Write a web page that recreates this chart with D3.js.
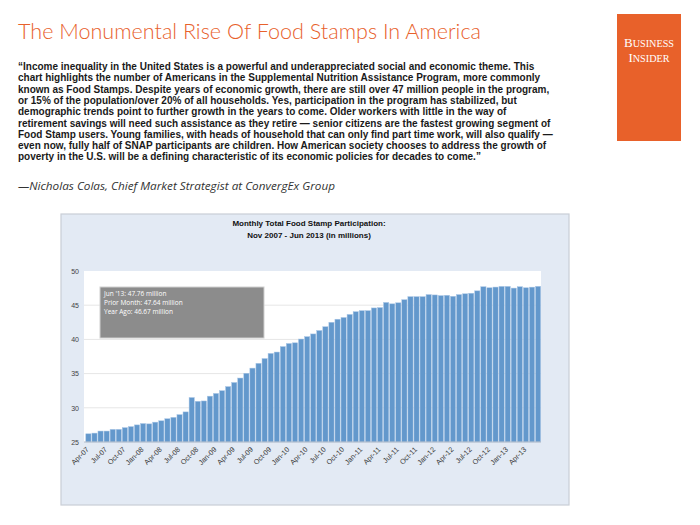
<!DOCTYPE html>
<html><head><meta charset="utf-8">
<script src="https://cdn.jsdelivr.net/npm/d3@7"></script>
<style>body{margin:0;background:#fff}svg{display:block}</style>
</head><body>
<script>
const months = ["Apr-07","May-07","Jun-07","Jul-07","Aug-07","Sep-07","Oct-07","Nov-07","Dec-07",
"Jan-08","Feb-08","Mar-08","Apr-08","May-08","Jun-08","Jul-08","Aug-08","Sep-08","Oct-08","Nov-08","Dec-08",
"Jan-09","Feb-09","Mar-09","Apr-09","May-09","Jun-09","Jul-09","Aug-09","Sep-09","Oct-09","Nov-09","Dec-09",
"Jan-10","Feb-10","Mar-10","Apr-10","May-10","Jun-10","Jul-10","Aug-10","Sep-10","Oct-10","Nov-10","Dec-10",
"Jan-11","Feb-11","Mar-11","Apr-11","May-11","Jun-11","Jul-11","Aug-11","Sep-11","Oct-11","Nov-11","Dec-11",
"Jan-12","Feb-12","Mar-12","Apr-12","May-12","Jun-12","Jul-12","Aug-12","Sep-12","Oct-12","Nov-12","Dec-12",
"Jan-13","Feb-13","Mar-13","Apr-13","May-13","Jun-13"];
const participation = [26.2,26.3,26.6,26.6,26.85,26.85,27.1,27.25,27.5,
27.7,27.65,27.9,28.1,28.4,28.6,29.0,29.4,31.5,30.95,31.0,31.7,
32.1,32.5,33.1,33.7,34.35,35.05,35.8,36.5,37.2,37.95,38.15,38.95,
39.4,39.5,40.05,40.4,40.8,41.3,41.85,42.5,42.95,43.2,43.65,44.05,
44.2,44.2,44.6,44.65,45.4,45.2,45.35,45.8,46.25,46.25,46.25,46.55,
46.5,46.4,46.45,46.3,46.55,46.67,46.75,47.1,47.7,47.55,47.65,47.75,
47.75,47.5,47.7,47.55,47.64,47.76];
const tickLabels = ["Apr-07","Jul-07","Oct-07","Jan-08","Apr-08","Jul-08","Oct-08","Jan-09","Apr-09",
"Jul-09","Oct-09","Jan-10","Apr-10","Jul-10","Oct-10","Jan-11","Apr-11","Jul-11","Oct-11","Jan-12",
"Apr-12","Jul-12","Oct-12","Jan-13","Apr-13"];
const yTicks = [25,30,35,40,45,50];
const pageTitle = "The Monumental Rise Of Food Stamps In America";
const quoteLines = [
"\u201CIncome inequality in the United States is a powerful and underappreciated social and economic theme. This",
"chart highlights the number of Americans in the Supplemental Nutrition Assistance Program, more commonly",
"known as Food Stamps. Despite years of economic growth, there are still over 47 million people in the program,",
"or 15% of the population/over 20% of all households. Yes, participation in the program has stabilized, but",
"demographic trends point to further growth in the years to come. Older workers with little in the way of",
"retirement savings will need such assistance as they retire \u2014 senior citizens are the fastest growing segment of",
"Food Stamp users. Young families, with heads of household that can only find part time work, will also qualify \u2014",
"even now, fully half of SNAP participants are children. How American society chooses to address the growth of",
"poverty in the U.S. will be a defining characteristic of its economic policies for decades to come.\u201D"];
const attribution = "\u2014Nicholas Colas, Chief Market Strategist at ConvergEx Group";
const chartTitle = ["Monthly Total Food Stamp Participation:", "Nov 2007 - Jun 2013 (in millions)"];
const tooltipLines = ["Jun '13: 47.76 million", "Prior Month: 47.64 million", "Year Ago: 46.67 million"];

const W = 700, H = 525;
const svg = d3.select("body").append("svg").attr("width", W).attr("height", H);

// Page title
svg.append("text").attr("x", 18).attr("y", 39).text(pageTitle)
  .attr("font-family", "Lato, 'Open Sans', sans-serif").attr("font-weight", 300)
  .attr("font-size", 22).attr("fill", "#e8612c")
  .attr("textLength", 463).attr("lengthAdjust", "spacingAndGlyphs");

// Logo
svg.append("rect").attr("x", 617).attr("y", 14).attr("width", 64).attr("height", 127).attr("fill", "#e8612a");
[["B", "USINESS", 47], ["I", "NSIDER", 62]].forEach(([a, b, yy]) => {
  const t = svg.append("text").attr("font-family", "'Liberation Serif', serif").attr("fill", "#fff")
    .attr("text-anchor", "middle").attr("x", 649).attr("y", yy);
  t.append("tspan").attr("font-size", 13).text(a);
  t.append("tspan").attr("font-size", 10.2).text(b);
});

// Quote
const q = svg.append("g").selectAll("text").data(quoteLines).join("text")
  .attr("x", 18).attr("y", (d, i) => 70 + i * 11.3)
  .attr("font-family", "'Liberation Sans', Arial, sans-serif").attr("font-weight", 700)
  .attr("font-size", 10).attr("fill", "#1a1a1a").text(d => d);
const base = q.nodes()[2].getComputedTextLength();
const fs = Math.min(10, 10 * 549 / base);
q.attr("font-size", fs);

svg.append("text").attr("x", 18).attr("y", 190).text(attribution)
  .attr("font-family", "'Open Sans', sans-serif").attr("font-style", "italic")
  .attr("font-size", 11).attr("fill", "#333")
  .attr("textLength", 317).attr("lengthAdjust", "spacingAndGlyphs");

// Chart panel
svg.append("rect").attr("x", 61).attr("y", 214).attr("width", 508).attr("height", 291)
  .attr("fill", "#e3eaf4").attr("stroke", "#c9ced6").attr("stroke-width", 1.2);

svg.append("g").selectAll("text").data(chartTitle).join("text")
  .attr("x", 309).attr("y", (d, i) => 226 + i * 12).attr("text-anchor", "middle")
  .attr("font-family", "'Liberation Sans', Arial, sans-serif").attr("font-weight", 700)
  .attr("font-size", 8).attr("fill", "#111").text(d => d);

const plot = {l: 84, r: 541, t: 271, b: 442};
svg.append("rect").attr("x", plot.l).attr("y", plot.t).attr("width", plot.r - plot.l)
  .attr("height", plot.b - plot.t).attr("fill", "#fff");

const x = d3.scaleBand().domain(months).range([plot.l + 1.5, plot.r]).paddingInner(0.14).paddingOuter(0.05);
const y = d3.scaleLinear().domain([25, 50]).range([plot.b, plot.t]);

// gridlines
svg.append("g").selectAll("line").data(yTicks.filter(t => t > 25 && t < 50)).join("line")
  .attr("x1", plot.l).attr("x2", plot.r).attr("y1", d => y(d)).attr("y2", d => y(d))
  .attr("stroke", "#e6e6e6").attr("stroke-width", 1);

// y axis
const yAxis = svg.append("g").attr("transform", `translate(${plot.l - 5},0)`)
  .call(d3.axisLeft(y).tickValues(yTicks).tickSize(0).tickPadding(0));
yAxis.select(".domain").remove();
yAxis.selectAll("text").attr("font-family", "'Liberation Sans', Arial, sans-serif")
  .attr("font-size", 7).attr("fill", "#444");

// bars
svg.append("g").selectAll("rect").data(participation).join("rect")
  .attr("x", (d, i) => x(months[i])).attr("width", x.bandwidth())
  .attr("y", d => y(d)).attr("height", d => y(25) - y(d))
  .attr("fill", "#6398cc").attr("stroke", "#a9c6e6").attr("stroke-width", 0.5);

// x axis
const xAxis = svg.append("g").attr("transform", `translate(0,${plot.b})`)
  .call(d3.axisBottom(x).tickValues(tickLabels).tickSize(0).tickPadding(0));
xAxis.select(".domain").attr("stroke", "#b4bcc8").attr("d", `M${plot.l},0H${plot.r}`);
xAxis.selectAll("text").attr("font-family", "'Liberation Sans', Arial, sans-serif")
  .attr("font-size", 7.2).attr("fill", "#3a3a3a")
  .attr("text-anchor", "end").attr("dy", 0).attr("dx", 0)
  .attr("transform", "translate(1,8) rotate(-45)");

// tooltip box
svg.append("rect").attr("x", 100).attr("y", 287).attr("width", 164).attr("height", 51)
  .attr("fill", "#8c8c8c").attr("stroke", "#cfcfcf").attr("stroke-width", 1);
svg.append("g").selectAll("text").data(tooltipLines).join("text")
  .attr("x", 104).attr("y", (d, i) => 296 + i * 9)
  .attr("font-family", "'Open Sans', sans-serif").attr("font-size", 6.5)
  .attr("fill", "#fff").text(d => d);
</script>
</body></html>
